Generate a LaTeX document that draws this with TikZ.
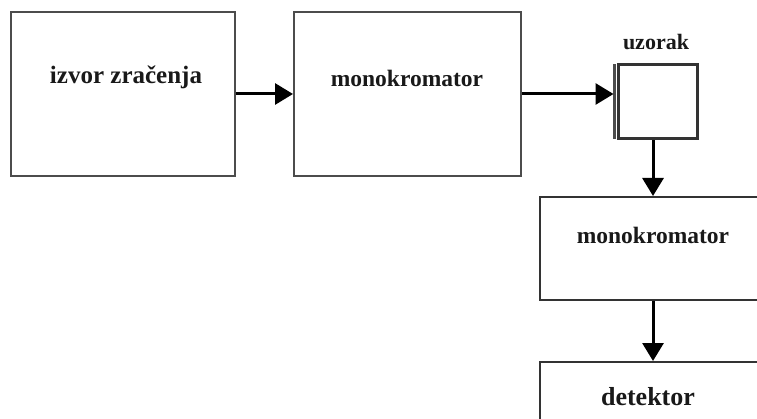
\documentclass[tikz,border=0pt]{standalone}
\usepackage{fontspec}
\setmainfont{Liberation Serif}
\usetikzlibrary{arrows.meta}
\tikzset{
  blockbox/.style={draw=black!70, line width=2pt, fill=white, inner sep=0pt},
  sample/.style={draw=black!80, line width=3pt, fill=white, inner sep=0pt},
  lbl/.style={font=\bfseries, text=black!90, inner sep=0pt},
  flow/.style={line width=3pt, -{Triangle[length=18pt,width=21pt]}}
}
\begin{document}
\begin{tikzpicture}[x=1pt,y=-1pt]
\useasboundingbox (0,0) rectangle (757,419);
\clip (0,0) rectangle (757,419);
\node[blockbox, minimum width=224pt, minimum height=164pt] (b1) at (123,94) {};
\node[blockbox, minimum width=227pt, minimum height=164pt] (b2) at (407.5,94) {};
\node[sample, minimum width=79pt, minimum height=74pt] (uz) at (657.5,102) {};
\draw[black!70, line width=2.5pt] ([xshift=-2pt,yshift=-1pt]uz.north west) coordinate (s1) -- ([xshift=-2pt,yshift=1pt]uz.south west) coordinate (s2);
\node[blockbox, draw=black!80, minimum width=226pt, minimum height=103pt] (b3) at (653,248.5) {};
\node[blockbox, draw=black!80, minimum width=226pt, minimum height=80pt] (b4) at (653,402) {};
\node[lbl, font=\bfseries\fontsize{25}{28}\selectfont] (t1) at (126,77) {izvor zračenja};
\node[lbl, font=\bfseries\fontsize{23.5}{28}\selectfont] (t2) at (407,78) {monokromator};
\node[lbl, font=\bfseries\fontsize{22}{26}\selectfont] (t3) at (656,42) {uzorak};
\node[lbl, font=\bfseries\fontsize{23.5}{28}\selectfont] (t4) at (653,235) {monokromator};
\node[lbl, font=\bfseries\fontsize{26}{30}\selectfont] (t5) at (648,397) {detektor};
\draw[flow] (b1.east) -- (b2.west);
\draw[flow] (b2.east) -- ([xshift=-1pt]b2.east -| s1);
\draw[flow] (b3.north |- uz.south) -- (b3.north);
\draw[flow] (b3.south) -- (b4.north);
\end{tikzpicture}
\end{document}
